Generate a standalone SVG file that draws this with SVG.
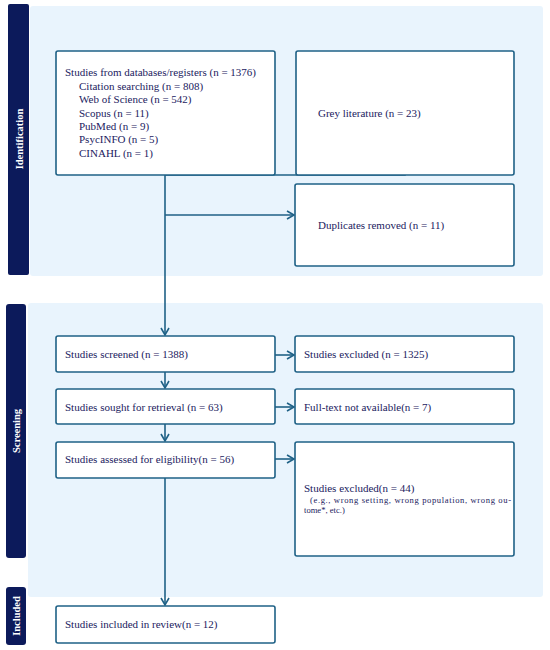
<svg xmlns="http://www.w3.org/2000/svg" width="550" height="650" viewBox="0 0 550 650">
<defs>
<style>
.panel{fill:#e9f4fd;stroke:none}
.side{fill:#0c1a5b}
.box{fill:#ffffff;stroke:#1f6186;stroke-width:1.6}
.ln{fill:none;stroke:#1f6186;stroke-width:1.6}
.t{font-family:"Liberation Serif","Times New Roman",serif;font-size:11px;fill:#1b2160}
.s{font-family:"Liberation Serif","Times New Roman",serif;font-size:8.6px;fill:#1b2160}
.lab{font-family:"Liberation Serif","Times New Roman",serif;font-size:10.5px;font-weight:bold;fill:#ffffff;text-anchor:middle}
</style>
<marker id="ah" markerWidth="10" markerHeight="10" refX="8" refY="5" orient="auto" markerUnits="userSpaceOnUse">
<path d="M1,1 L8,5 L1,9" fill="none" stroke="#1f6186" stroke-width="1.6"/>
</marker>
</defs>
<rect width="550" height="650" fill="#ffffff"/>
<g id="panels">
<rect class="panel" x="30" y="6" width="513" height="270" rx="3"/>
<rect class="panel" x="28" y="303" width="515" height="294" rx="3"/>
</g>
<g id="sidebar-identification">
<rect class="side" x="8" y="4" width="21" height="271" rx="2"/>
<text class="lab" transform="translate(22.5,139) rotate(-90)">Identification</text>
</g>
<g id="sidebar-screening">
<rect class="side" x="6" y="304" width="20" height="254" rx="3"/>
<text class="lab" transform="translate(20,431) rotate(-90)">Screening</text>
</g>
<g id="sidebar-included">
<rect class="side" x="6" y="587" width="20" height="58" rx="3"/>
<text class="lab" transform="translate(20,616) rotate(-90)">Included</text>
</g>
<g id="connectors">
<path class="ln" d="M165,175 V335" marker-end="url(#ah)"/>
<path class="ln" d="M405,162 V175 H165"/>
<path class="ln" d="M165,215 H294" marker-end="url(#ah)"/>
<path class="ln" d="M165,372 V388" marker-end="url(#ah)"/>
<path class="ln" d="M165,424 V441" marker-end="url(#ah)"/>
<path class="ln" d="M165,478 V605" marker-end="url(#ah)"/>
<path class="ln" d="M275,355 H294" marker-end="url(#ah)"/>
<path class="ln" d="M275,407 H294" marker-end="url(#ah)"/>
<path class="ln" d="M275,459 H294" marker-end="url(#ah)"/>
</g>
<g id="node-databases">
<rect class="box" x="56" y="51" width="219" height="124" rx="2"/>
<text class="t" x="65" y="76">Studies from databases/registers (n = 1376)</text>
<text class="t" x="79" y="90">Citation searching (n = 808)</text>
<text class="t" x="79" y="103">Web of Science (n = 542)</text>
<text class="t" x="79" y="117">Scopus (n = 11)</text>
<text class="t" x="79" y="130">PubMed (n = 9)</text>
<text class="t" x="79" y="143">PsycINFO (n = 5)</text>
<text class="t" x="79" y="157">CINAHL (n = 1)</text>
</g>
<g id="node-grey">
<rect class="box" x="296" y="51" width="218" height="124" rx="2"/>
<text class="t" x="318" y="117">Grey literature (n = 23)</text>
</g>
<g id="node-duplicates">
<rect class="box" x="295" y="184" width="219" height="82" rx="2"/>
<text class="t" x="318" y="229">Duplicates removed (n = 11)</text>
</g>
<g id="node-screened">
<rect class="box" x="56" y="336" width="219" height="36" rx="2"/>
<text class="t" x="65" y="358">Studies screened (n = 1388)</text>
</g>
<g id="node-excluded1">
<rect class="box" x="295" y="336" width="219" height="36" rx="2"/>
<text class="t" x="304" y="358">Studies excluded (n = 1325)</text>
</g>
<g id="node-sought">
<rect class="box" x="56" y="389" width="219" height="35" rx="2"/>
<text class="t" x="65" y="411">Studies sought for retrieval (n = 63)</text>
</g>
<g id="node-fulltext">
<rect class="box" x="295" y="389" width="219" height="35" rx="2"/>
<text class="t" x="304" y="411">Full-text not available(n = 7)</text>
</g>
<g id="node-assessed">
<rect class="box" x="56" y="442" width="219" height="36" rx="2"/>
<text class="t" x="65" y="463">Studies assessed for eligibility(n = 56)</text>
</g>
<g id="node-excluded2">
<rect class="box" x="295" y="442" width="219" height="114" rx="2"/>
<text class="t" x="304" y="492">Studies excluded(n = 44)</text>
<text class="s" x="310" y="503" textLength="201" lengthAdjust="spacing">(e.g., wrong setting, wrong population, wrong ou-</text>
<text class="s" x="304" y="513">tome*, etc.)</text>
</g>
<g id="node-included">
<rect class="box" x="56" y="606" width="219" height="37" rx="2"/>
<text class="t" x="65" y="628">Studies included in review(n = 12)</text>
</g>
</svg>
